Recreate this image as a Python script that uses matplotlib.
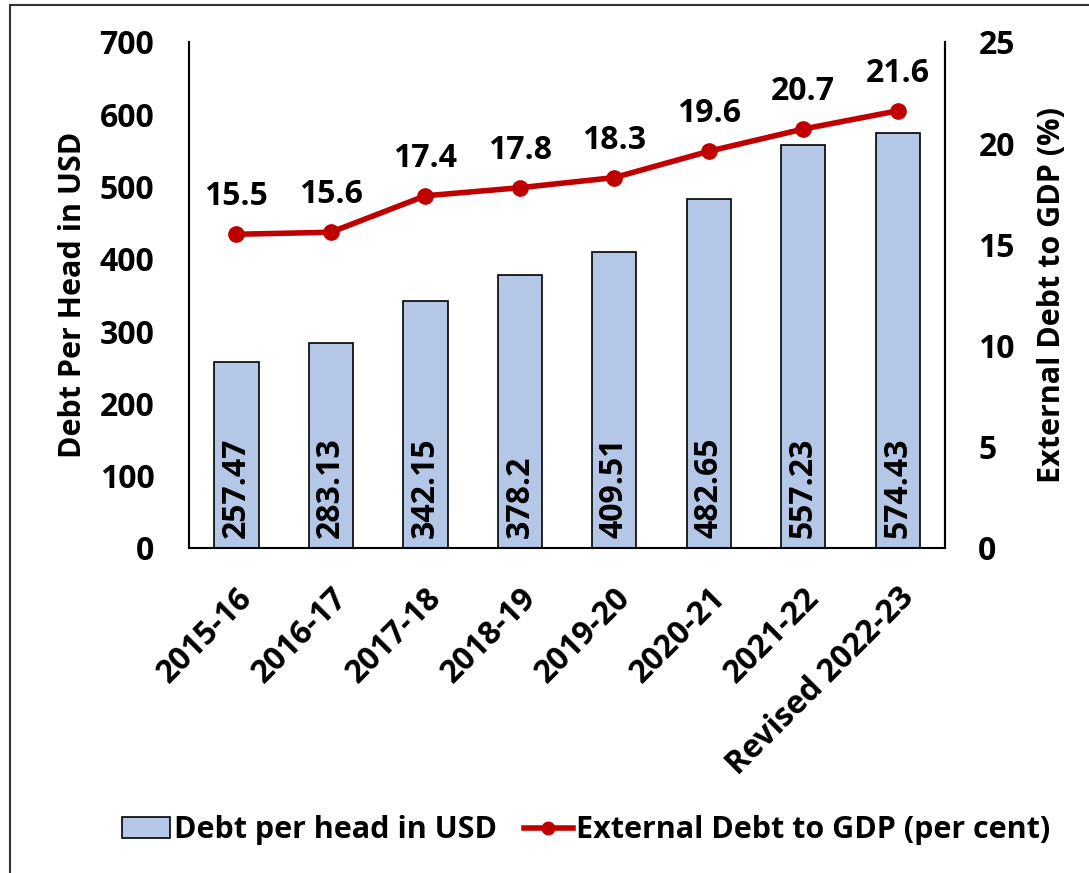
import matplotlib.pyplot as plt
from matplotlib.patches import Rectangle, Patch
from matplotlib.lines import Line2D
import numpy as np

years = ['2015-16', '2016-17', '2017-18', '2018-19', '2019-20',
         '2020-21', '2021-22', 'Revised 2022-23']
debt_per_head = [257.47, 283.13, 342.15, 378.2, 409.51, 482.65, 557.23, 574.43]
debt_to_gdp = [15.5, 15.6, 17.4, 17.8, 18.3, 19.6, 20.7, 21.6]

bar_color = '#B4C7E7'
line_color = '#C00000'

plt.rcParams['font.family'] = ['Open Sans', 'DejaVu Sans']
plt.rcParams['font.weight'] = 'bold'
fs = 23

fig = plt.figure(figsize=(10.89, 8.73), dpi=100)
ax = fig.add_axes([0.1736, 0.3723, 0.6942, 0.5796])
x = np.arange(len(years))

ax.bar(x, debt_per_head, width=0.47, color=bar_color,
       edgecolor='black', linewidth=1.2, zorder=2)
for xi, v in zip(x, debt_per_head):
    ax.text(xi, 14, f'{v:g}', rotation=90, ha='center', va='bottom',
            fontsize=fs, fontweight='bold')

ax.set_xlim(-0.5, len(years) - 0.5)
ax.set_ylim(0, 700)
ax.set_yticks(range(0, 701, 100))
ax.set_xticks(x)
ax.set_xticklabels(years, rotation=45, ha='right', rotation_mode='anchor',
                   fontsize=fs, fontweight='bold')
ax.tick_params(axis='both', length=0, labelsize=fs)
ax.tick_params(axis='y', pad=25)
ax.tick_params(axis='x', pad=24)
for lab in ax.get_yticklabels():
    lab.set_fontweight('bold')
ax.set_ylabel('Debt Per Head in USD', fontsize=fs - 1, fontweight='bold',
              labelpad=8)
ax.spines['top'].set_visible(False)
for s in ['left', 'bottom', 'right']:
    ax.spines[s].set_linewidth(1.5)

ax2 = ax.twinx()
ax2.plot(x, debt_to_gdp, color=line_color, linewidth=4, marker='o',
         markersize=11, zorder=3)
for xi, v in zip(x, debt_to_gdp):
    ax2.annotate(f'{v:g}', (xi, v), xytext=(0, 15), textcoords='offset points',
                 ha='center', va='bottom', fontsize=fs, fontweight='bold')
ax2.set_ylim(0, 25)
ax2.set_yticks(range(0, 26, 5))
ax2.tick_params(axis='y', length=0, labelsize=fs, pad=24)
for lab in ax2.get_yticklabels():
    lab.set_fontweight('bold')
ax2.set_ylabel('External Debt to GDP (%)', fontsize=fs - 1, fontweight='bold',
               labelpad=16)
ax2.spines['top'].set_visible(False)
ax2.spines['right'].set_linewidth(1.5)
ax2.spines['left'].set_visible(False)
ax2.spines['bottom'].set_visible(False)

handles = [Patch(facecolor=bar_color, edgecolor='black', linewidth=1.2),
           Line2D([0], [0], color=line_color, linewidth=4, marker='o',
                  markersize=9)]
fig.legend(handles, ['Debt per head in USD', 'External Debt to GDP (per cent)'],
           loc='center', bbox_to_anchor=(0.538, 0.049), ncol=2, frameon=False,
           handlelength=1.6, handletextpad=0.1, columnspacing=0.9,
           prop={'weight': 'bold', 'size': fs - 1})

fig.patches.append(Rectangle((10 / 1089, -0.1), 1.2, 1.1 - 5 / 873,
                             transform=fig.transFigure, fill=False,
                             edgecolor='#333333', linewidth=1.5))

fig.savefig('out.png', dpi=100)
